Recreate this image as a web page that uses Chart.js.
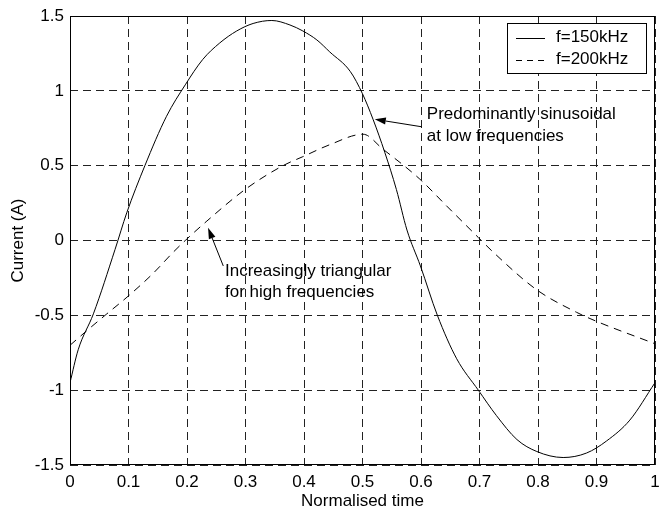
<!DOCTYPE html>
<html>
<head>
<meta charset="utf-8">
<script src="https://cdn.jsdelivr.net/npm/chart.js@4/dist/chart.umd.min.js"></script>
<style>
  html, body { margin: 0; padding: 0; background: #fff; }
  #wrap { width: 659px; height: 510px; }
</style>
</head>
<body>
<div id="wrap"><canvas id="myChart" width="659" height="510"></canvas></div>
<script>
// f = 150 kHz (solid)
const t150 = [0, 0.014, 0.040, 0.077, 0.097, 0.128, 0.165, 0.197, 0.227, 0.256, 0.285, 0.313, 0.345, 0.376, 0.398, 0.422, 0.444, 0.479, 0.500, 0.518, 0.538, 0.558, 0.576, 0.599, 0.628, 0.661, 0.698, 0.729, 0.764, 0.798, 0.843, 0.883, 0.917, 0.957, 1.0];
const i150 = [-0.95, -0.73, -0.49, -0.06, 0.185, 0.50, 0.83, 1.04, 1.21, 1.32, 1.40, 1.45, 1.47, 1.44, 1.40, 1.34, 1.26, 1.13, 0.98, 0.81, 0.59, 0.34, 0.07, -0.17, -0.50, -0.79, -1.00, -1.17, -1.33, -1.41, -1.45, -1.42, -1.34, -1.20, -0.95];

// f = 200 kHz (dashed)
const t200 = [0, 0.031, 0.063, 0.100, 0.142, 0.176, 0.197, 0.234, 0.299, 0.364, 0.398, 0.444, 0.501, 0.535, 0.598, 0.644, 0.698, 0.724, 0.798, 0.866, 0.900, 1.0];
const i200 = [-0.70, -0.595, -0.49, -0.37, -0.22, -0.08, 0, 0.13, 0.34, 0.50, 0.56, 0.64, 0.71, 0.61, 0.41, 0.23, 0.02, -0.08, -0.33, -0.48, -0.54, -0.69];

const seriesLabels = ["f=150kHz", "f=200kHz"];

// annotations: arrow tip, arrow tail, text anchor (data coordinates)
const notes = [
  { tip: [0.521, 0.81], tail: [0.601, 0.76], at: [0.610, 0.84], lines: ["Predominantly sinusoidal", "at low frequencies"] },
  { tip: [0.236, 0.085], tail: [0.262, -0.17], at: [0.265, -0.205], lines: ["Increasingly triangular", "for high frequencies"] }
];

const FONT = "'Liberation Sans', Arial, Helvetica, sans-serif";

function toPoints(xs, ys) {
  return xs.map((x, k) => ({ x: x, y: ys[k] }));
}

// MATLAB-Stil: 1 statt 1.0
function fmt(v) {
  return String(Math.round(v * 10) / 10);
}

// Rahmen um den Plotbereich + Legende + Pfeile
const decorations = {
  id: "decorations",
  afterDatasetsDraw(chart) {
    const ctx = chart.ctx;
    const a = chart.chartArea;
    const xs = chart.scales.x, ys = chart.scales.y;

    ctx.save();
    ctx.strokeStyle = "#000";
    ctx.lineWidth = 1;
    ctx.setLineDash([]);
    ctx.strokeRect(a.left + 0.5, a.top + 0.5, a.right - a.left - 1, a.bottom - a.top - 1);

    // legend box
    const bw = 139, bh = 50;
    const bx = a.right - 9 - bw, by = a.top + 7;
    ctx.fillStyle = "#fff";
    ctx.fillRect(bx, by, bw, bh);
    ctx.strokeRect(bx + 0.5, by + 0.5, bw, bh);
    ctx.font = "17px " + FONT;
    ctx.textBaseline = "middle";
    ctx.textAlign = "left";
    chart.data.datasets.forEach((ds, k) => {
      const ly = by + 14.5 + k * 22;
      ctx.beginPath();
      ctx.setLineDash(ds.borderDash ? [6, 5] : []);
      ctx.moveTo(bx + 9, Math.round(ly) + 0.5);
      ctx.lineTo(bx + 38, Math.round(ly) + 0.5);
      ctx.stroke();
      ctx.fillStyle = "#000";
      ctx.fillText(ds.label, bx + 49, ly);
    });
    ctx.setLineDash([]);

    // annotations
    notes.forEach((n) => {
      const tx = xs.getPixelForValue(n.tip[0]), ty = ys.getPixelForValue(n.tip[1]);
      const sx = xs.getPixelForValue(n.tail[0]), sy = ys.getPixelForValue(n.tail[1]);
      const ang = Math.atan2(ty - sy, tx - sx);
      const len = 11, half = 3.5;
      ctx.beginPath();
      ctx.moveTo(sx, sy);
      ctx.lineTo(tx - Math.cos(ang) * len, ty - Math.sin(ang) * len);
      ctx.stroke();
      ctx.beginPath();
      ctx.moveTo(tx, ty);
      ctx.lineTo(tx - Math.cos(ang) * len - Math.sin(ang) * half, ty - Math.sin(ang) * len + Math.cos(ang) * half);
      ctx.lineTo(tx - Math.cos(ang) * len + Math.sin(ang) * half, ty - Math.sin(ang) * len - Math.cos(ang) * half);
      ctx.closePath();
      ctx.fillStyle = "#000";
      ctx.fill();

      const px = xs.getPixelForValue(n.at[0]);
      const py = ys.getPixelForValue(n.at[1]);
      n.lines.forEach((txt, k) => {
        ctx.fillText(txt, px, py + k * 21.5);
      });
    });
    ctx.restore();
  }
};

const ctx = document.getElementById("myChart").getContext("2d");
const myChart = new Chart(ctx, {
  type: "line",
  data: {
    datasets: [
      {
        label: seriesLabels[0],
        data: toPoints(t150, i150),
        borderColor: "#000",
        borderWidth: 1,
        pointRadius: 0,
        cubicInterpolationMode: "monotone"
      },
      {
        label: seriesLabels[1],
        data: toPoints(t200, i200),
        borderColor: "#000",
        borderWidth: 1,
        borderDash: [8, 6],
        pointRadius: 0,
        cubicInterpolationMode: "monotone"
      }
    ]
  },
  options: {
    responsive: false,
    animation: false,
    layout: { padding: { top: 16, right: 4, left: 0, bottom: 0 } },
    plugins: {
      legend: { display: false },
      tooltip: { enabled: false }
    },
    scales: {
      x: {
        type: "linear",
        min: 0,
        max: 1,
        ticks: { stepSize: 0.1, color: "#000", padding: 7, maxRotation: 0, font: { family: FONT, size: 17 }, callback: fmt },
        grid: { color: "#222", lineWidth: 1, drawTicks: false },
        border: { display: false, dash: [8, 5] },
        title: { display: true, text: "Normalised time", color: "#000", padding: { top: 0, bottom: -2 }, font: { family: FONT, size: 17 } },
        afterFit: (scale) => {
          scale.height = 45;
          scale.paddingLeft = 0;
          scale.paddingRight = 0;
        }
      },
      y: {
        type: "linear",
        min: -1.5,
        max: 1.5,
        ticks: { stepSize: 0.5, color: "#000", padding: 6, font: { family: FONT, size: 17 }, callback: fmt },
        grid: { color: "#222", lineWidth: 1, drawTicks: false },
        border: { display: false, dash: [8, 5] },
        title: { display: true, text: "Current (A)", color: "#000", padding: { top: 8, bottom: 0 }, font: { family: FONT, size: 17 } },
        afterFit: (scale) => {
          scale.width = 70;
          scale.paddingTop = 0;
          scale.paddingBottom = 0;
        }
      }
    }
  },
  plugins: [decorations]
});
</script>
</body>
</html>
